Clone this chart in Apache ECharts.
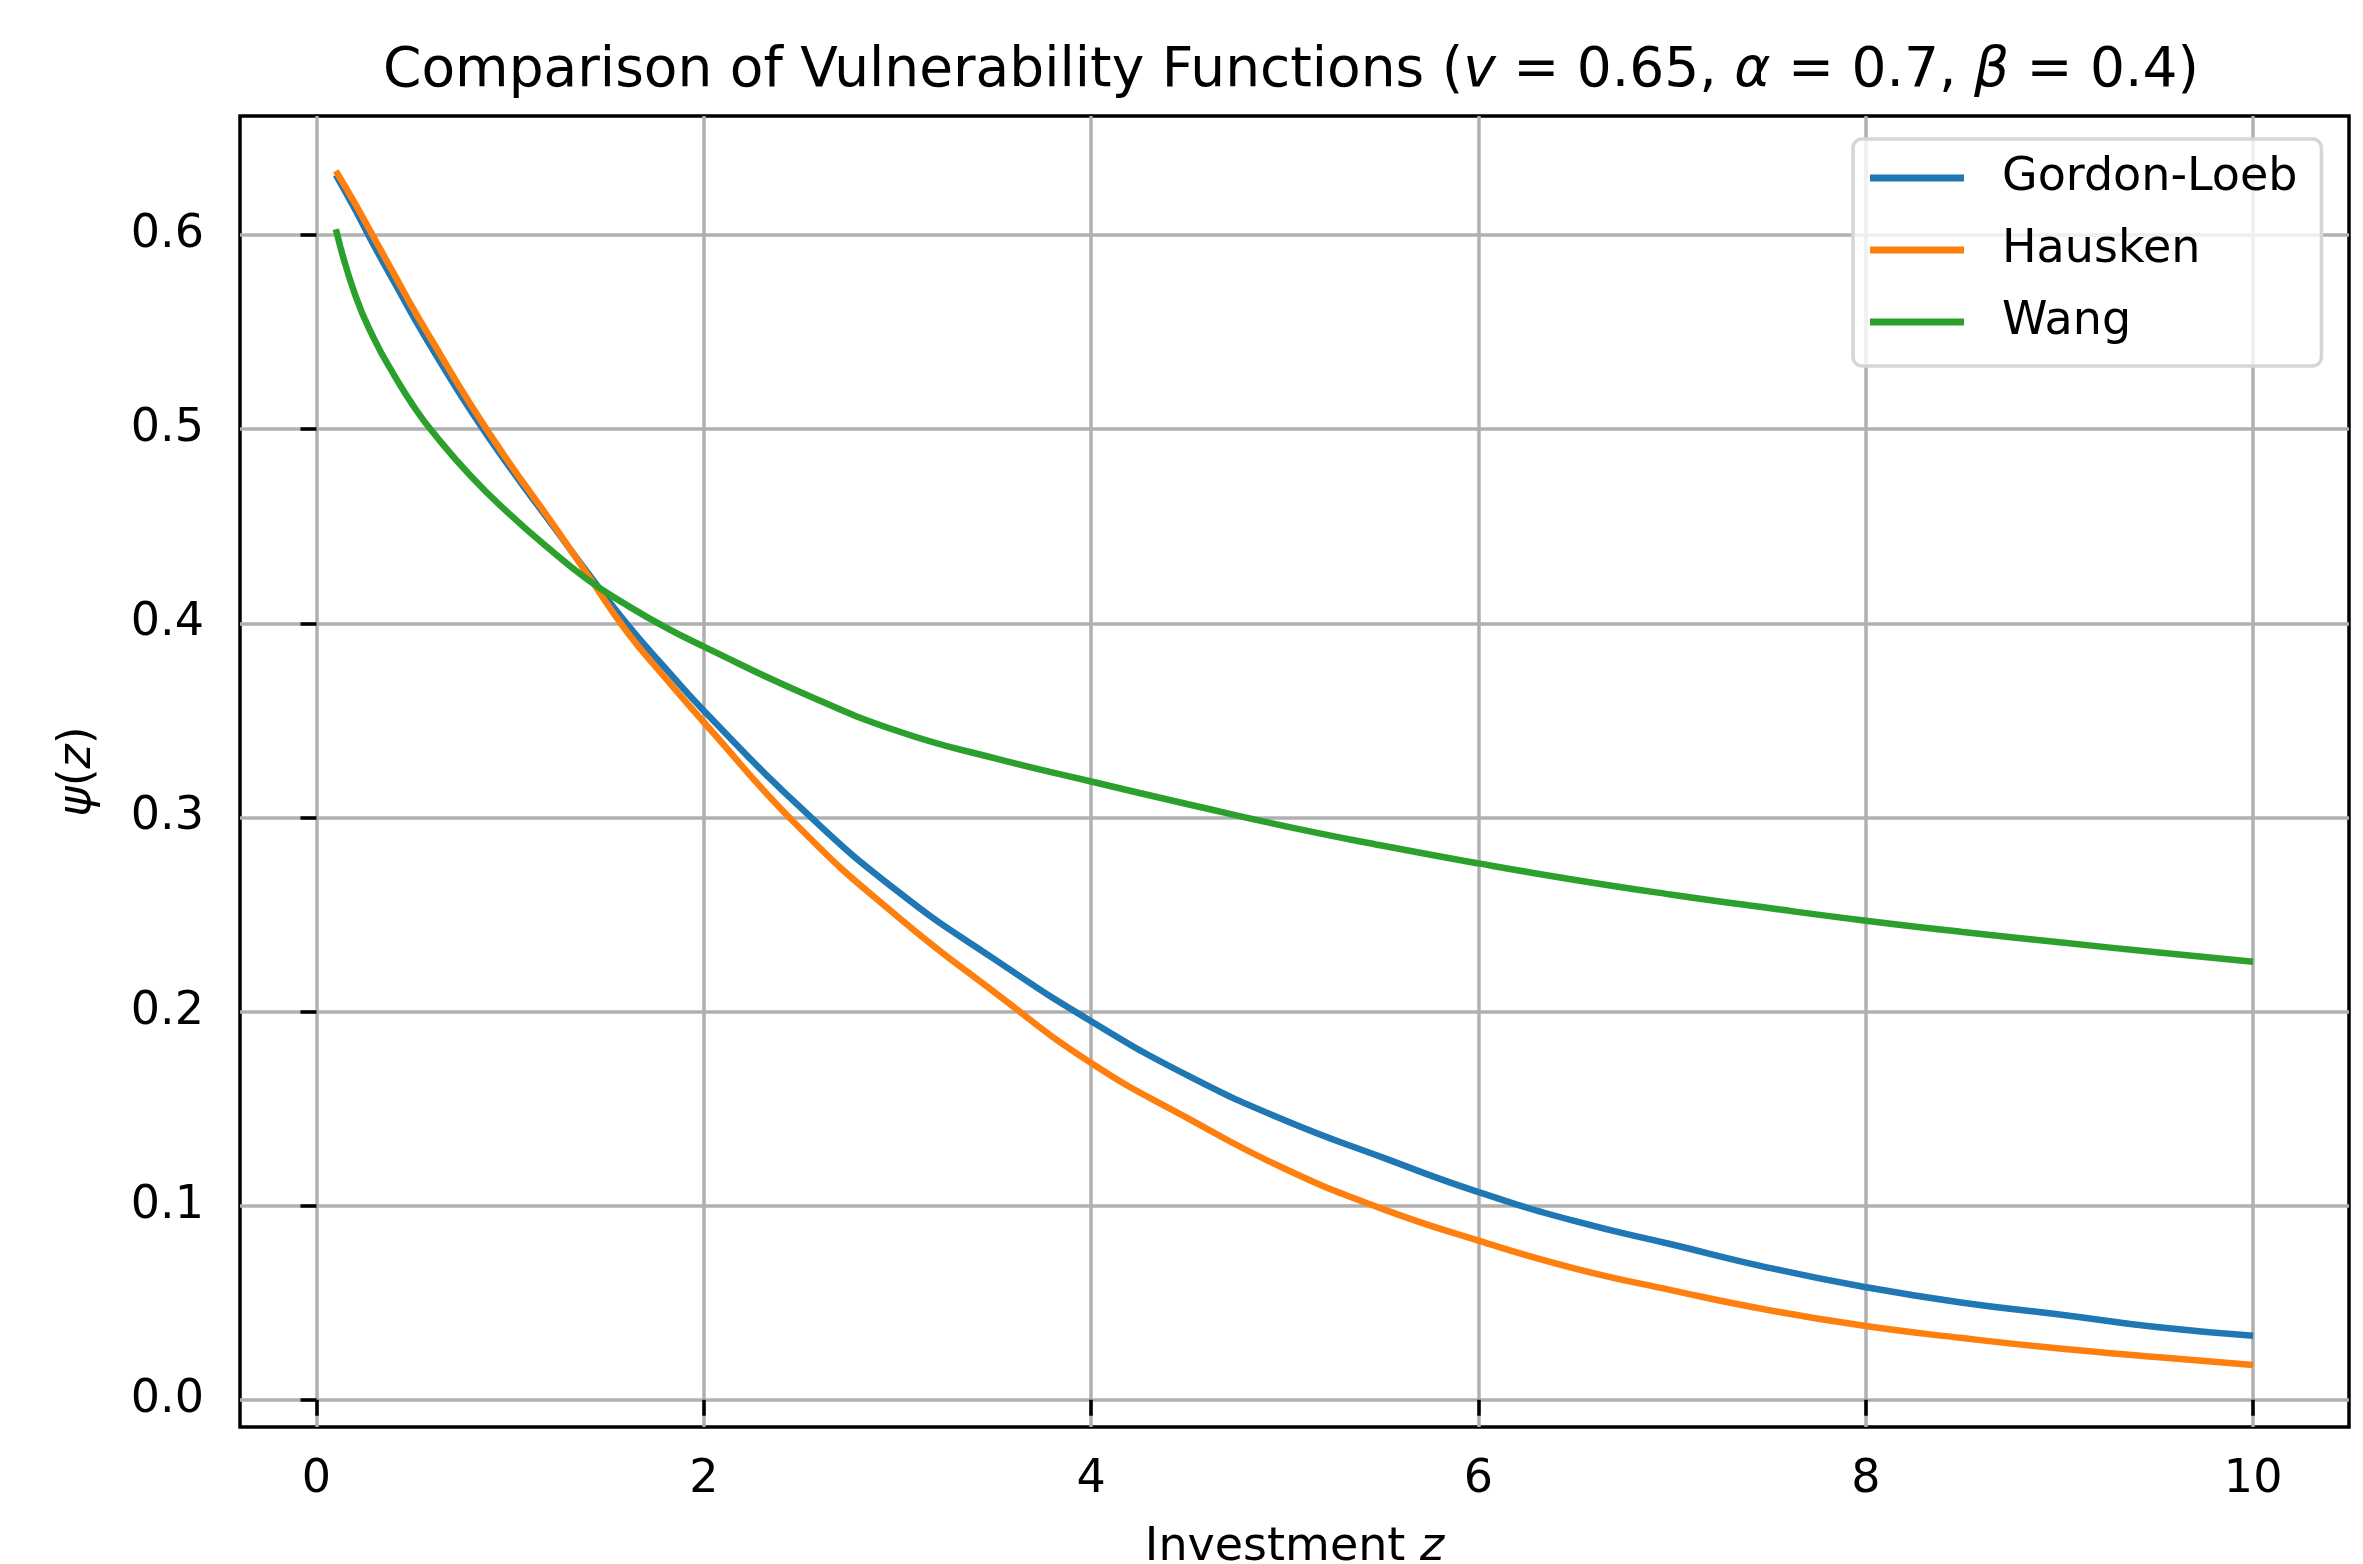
<!DOCTYPE html>
<html>
<head>
<meta charset="utf-8">
<title>Comparison of Vulnerability Functions</title>
<script src="https://cdn.jsdelivr.net/npm/echarts@6/dist/echarts.min.js"></script>
<style>
  html, body { margin: 0; padding: 0; background: #fff; }
  #chart { width: 2363px; height: 1564px; }
</style>
</head>
<body>
<div id="chart"></div>
<script>
// investment z (x values)
const investment = [0.1, 0.2, 0.3, 0.4, 0.5, 0.6, 0.8, 1.0, 1.2, 1.4, 1.6, 1.8, 2.0, 2.5, 3.0, 3.5, 4.0, 4.5, 5.0, 5.5, 6.0, 6.5, 7.0, 7.5, 8.0, 8.5, 9.0, 9.5, 10.0]
// psi(z) for each model
const gordonLoeb = [0.631, 0.613, 0.594, 0.576, 0.558, 0.541, 0.509, 0.480, 0.453, 0.426, 0.400, 0.377, 0.355, 0.305, 0.262, 0.227, 0.195, 0.167, 0.144, 0.125, 0.107, 0.092, 0.080, 0.068, 0.058, 0.050, 0.044, 0.0375, 0.033]
const hausken = [0.633, 0.616, 0.598, 0.580, 0.562, 0.545, 0.512, 0.482, 0.454, 0.425, 0.396, 0.372, 0.349, 0.294, 0.249, 0.210, 0.1735, 0.145, 0.119, 0.0985, 0.082, 0.0676, 0.0564, 0.0462, 0.038, 0.0318, 0.0264, 0.022, 0.0179]
const wang = [0.603, 0.569, 0.546, 0.528, 0.512, 0.4985, 0.4755, 0.456, 0.4385, 0.4225, 0.4095, 0.398, 0.388, 0.3645, 0.3445, 0.3305, 0.3185, 0.3068, 0.2955, 0.2855, 0.2763, 0.2678, 0.2602, 0.2533, 0.2468, 0.2410, 0.2357, 0.2305, 0.2256]

const seriesNames = ['Gordon-Loeb', 'Hausken', 'Wang']
const seriesColors = ['#1f77b4', '#ff7f0e', '#2ca02c']
const xTicks = [0, 2, 4, 6, 8, 10]
const yTicks = [0, 0.1, 0.2, 0.3, 0.4, 0.5, 0.6]

const font = 'DejaVu Sans'
const italic = { fontFamily: font, fontStyle: 'italic' }

function pairs(ys) {
  return investment.map((x, i) => [x, ys[i]])
}

const chart = echarts.init(document.getElementById('chart'), null, { renderer: 'canvas' })

chart.setOption({
  animation: false,
  backgroundColor: '#fff',
  textStyle: { fontFamily: font },
  title: {
    text: 'Comparison of Vulnerability Functions ({i|v} = 0.65, {i|α} = 0.7, {i|β} = 0.4)',
    left: 378,
    top: 39,
    textStyle: {
      fontFamily: font,
      fontSize: 55,
      fontWeight: 'normal',
      color: '#000',
      rich: { i: Object.assign({ fontSize: 55, color: '#000' }, italic) }
    }
  },
  legend: {
    orient: 'vertical',
    left: 1853,
    top: 139,
    icon: 'rect',
    itemWidth: 94,
    itemHeight: 7,
    itemGap: 24,
    padding: [15, 24, 20, 17],
    backgroundColor: 'rgba(255,255,255,0.8)',
    borderColor: '#d6d6d6',
    borderWidth: 3.5,
    borderRadius: 9,
    data: seriesNames,
    textStyle: {
      fontFamily: font,
      fontSize: 46,
      color: '#000',
      lineHeight: 48,
      padding: [0, 0, 0, 33]
    }
  },
  grid: {
    left: 240,
    top: 116,
    width: 2109,
    height: 1311,
    outerBoundsMode: 'none',
    containLabel: false,
    show: true,
    borderColor: '#000',
    borderWidth: 3.5,
    backgroundColor: 'transparent'
  },
  xAxis: {
    type: 'value',
    min: -0.395,
    max: 10.495,
    name: 'Investment {i|z}',
    nameLocation: 'middle',
    nameGap: 98,
    nameTextStyle: {
      fontFamily: font,
      fontSize: 46,
      color: '#000',
      rich: { i: Object.assign({ fontSize: 46, color: '#000' }, italic) }
    },
    axisLine: { show: false },
    axisTick: {
      show: true,
      length: 16,
      lineStyle: { color: '#000', width: 3.5 },
      customValues: xTicks
    },
    axisLabel: {
      fontFamily: font,
      fontSize: 46,
      color: '#000',
      margin: 30,
      customValues: xTicks,
      formatter: v => String(v)
    },
    splitLine: { show: true, lineStyle: { color: '#b0b0b0', width: 3.5 } }
  },
  yAxis: {
    type: 'value',
    min: -0.014,
    max: 0.6613,
    name: '{i|ψ}({i|z})',
    nameLocation: 'middle',
    nameGap: 139,
    nameTextStyle: {
      fontFamily: font,
      fontSize: 46,
      color: '#000',
      rich: { i: Object.assign({ fontSize: 46, color: '#000' }, italic) }
    },
    axisLine: { show: false },
    axisTick: {
      show: true,
      length: 16,
      lineStyle: { color: '#000', width: 3.5 },
      customValues: yTicks
    },
    axisLabel: {
      fontFamily: font,
      fontSize: 46,
      color: '#000',
      margin: 36,
      customValues: yTicks,
      formatter: v => v.toFixed(1)
    },
    splitLine: { show: true, lineStyle: { color: '#b0b0b0', width: 3.5 } }
  },
  series: [gordonLoeb, hausken, wang].map((ys, i) => ({
    name: seriesNames[i],
    type: 'line',
    data: pairs(ys),
    symbol: 'none',
    smooth: true,
    color: seriesColors[i],
    lineStyle: { color: seriesColors[i], width: 6.5 },
    z: 3 + i
  }))
})
</script>
</body>
</html>
